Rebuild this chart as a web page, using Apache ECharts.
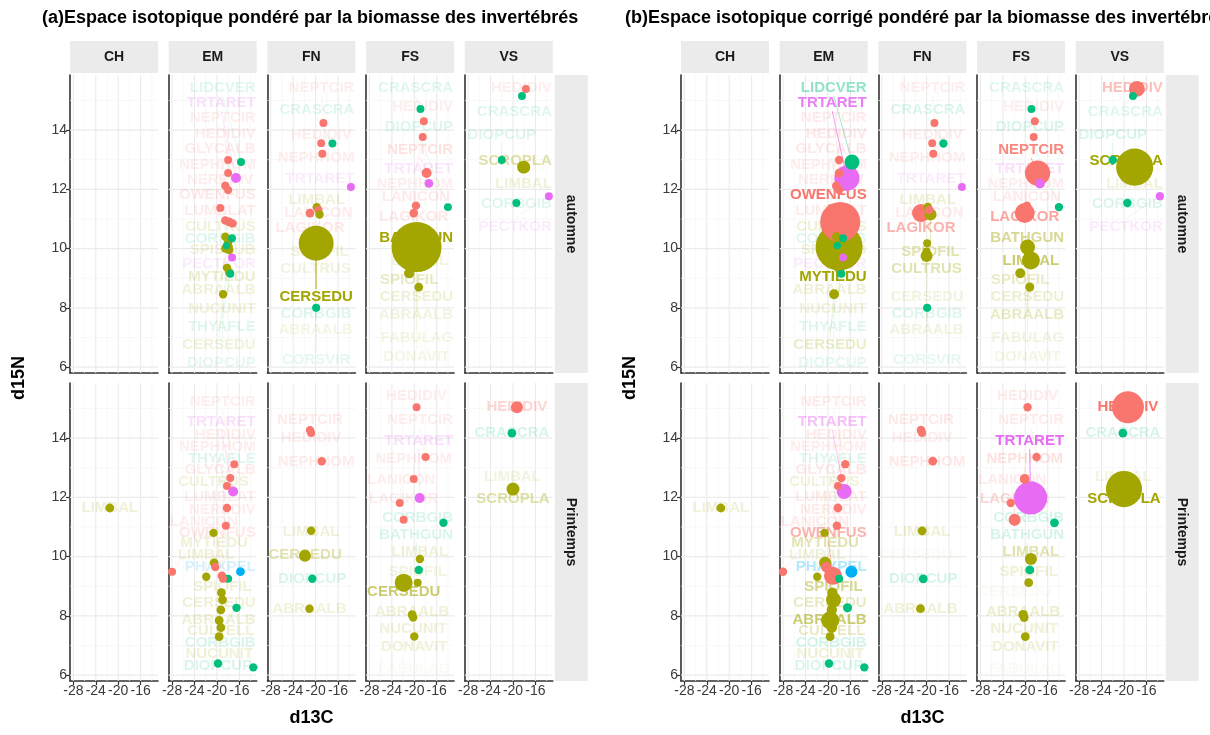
<!DOCTYPE html>
<html>
<head>
<meta charset="utf-8">
<script src="https://cdn.jsdelivr.net/npm/echarts@6/dist/echarts.min.js"></script>
<style>
  html, body { margin: 0; padding: 0; background: #ffffff; }
  #chart { width: 1210px; height: 735px; }
</style>
</head>
<body>
<div id="chart"></div>
<script>
// ---- categories, axes and colours ----
const FONT = '"Liberation Sans", Arial, Helvetica, sans-serif';
const groupColors = ['#F8766D', '#A3A500', '#00BF7D', '#00B0F6', '#E76BF3'];
const sites = ['CH', 'EM', 'FN', 'FS', 'VS'];
const seasons = ['automne', 'Printemps'];
const panelTitles = [
  '(a)Espace isotopique pondéré par la biomasse des invertébrés',
  '(b)Espace isotopique corrigé pondéré par la biomasse des invertébrés'
];
const xTicks = [-28, -24, -20, -16];
const xMinor = [-26, -22, -18, -14];
const yTicks = [6, 8, 10, 12, 14];
const yMinor = [7, 9, 11, 13, 15];
const xRange = [-28.6, -12.9];
const yRange = [5.8, 15.86];

// ---- taxa per site and season ----
// [code, trophic group, d13C, d15N, label d15N, biomass weight (a), biomass weight (b)]
const CH_automne = [];
const EM_automne = [
  ['LIDCVER', 2, -15.7, 12.92, 15.42, 0.002, 0.042],
  ['TRTARET', 4, -16.6, 12.38, 14.91, 0.008, 0.19],
  ['NEPTCIR', 0, -18.0, 12.99, 14.40, 0.002, 0.003],
  ['HEDIDIV', 0, -18.0, 12.55, 13.88, 0.002, 0.004],
  ['GLYCALB', 0, -18.5, 12.12, 13.36, 0.003, 0.004],
  ['NEPHHOM', 0, -18.0, 11.98, 12.84, 0.002, 0.002],
  ['NEREDIV', 0, -19.4, 11.37, 12.32, 0.002, 0.002],
  ['OWENFUS', 0, -17.8, 10.90, 11.82, 0.004, 0.60],
  ['LUMBLAT', 0, -17.2, 10.85, 11.28, 0.003, 0.003],
  ['CULTRUS', 1, -18.5, 10.40, 10.72, 0.003, 0.004],
  ['CORBGIB', 2, -17.3, 10.35, 10.33, 0.002, 0.002],
  ['SPISSUB', 1, -18.0, 10.20, 9.95, 0.003, 0.004],
  ['PECTKOR', 4, -17.3, 9.70, 9.50, 0.002, 0.002],
  ['MYTIEDU', 1, -18.0, 10.05, 9.05, 0.006, 0.87],
  ['ABRAALB', 1, -18.2, 9.35, 8.60, 0.003, 0.004],
  ['NUCUNIT', 1, -17.8, 9.20, 7.95, 0.003, 0.003],
  ['THYAFLE', 2, -17.6, 9.15, 7.35, 0.002, 0.002],
  ['CERSEDU', 1, -18.9, 8.46, 6.75, 0.003, 0.008],
  ['DIOPCUP', 2, -18.3, 10.10, 6.15, 0.001, 0.001],
  ['LANICON', 0, -18.5, 10.95, null, 0.003, 0.003],
  ['SPIOFIL', 1, -18.5, 10.00, null, 0.003, 0.003],
  ['MACOBAL', 1, -17.8, 9.95, null, 0.003, 0.003]
];
const FN_automne = [
  ['NEPTCIR', 0, -18.6, 14.24, 15.42, 0.002, 0.002],
  ['CRASCRA', 2, -17.0, 13.55, 14.68, 0.002, 0.003],
  ['HEDIDIV', 0, -19.0, 13.56, 13.85, 0.002, 0.002],
  ['NEPHHOM', 0, -18.8, 13.20, 13.05, 0.002, 0.002],
  ['TRTARET', 4, -13.7, 12.08, 12.35, 0.002, 0.002],
  ['LIMBAL', 1, -19.8, 11.40, 11.65, 0.003, 0.004],
  ['LANICON', 0, -19.5, 11.30, 11.20, 0.003, 0.003],
  ['LAGIKOR', 0, -21.0, 11.20, 10.70, 0.004, 0.074],
  ['SPIOFIL', 1, -19.3, 11.15, 9.90, 0.003, 0.019],
  ['CULTRUS', 1, -20.0, 9.75, 9.30, 0.002, 0.019],
  ['CERSEDU', 1, -19.9, 10.18, 8.36, 0.43, 0.002],
  ['CORBGIB', 2, -19.9, 8.00, 7.80, 0.002, 0.002],
  ['ABRAALB', 1, -20.0, 9.90, 7.25, 0.001, 0.002],
  ['CORSVIR', 2, -19.9, 8.00, 6.25, 0.001, 0.001]
];
const FS_automne = [
  ['CRASCRA', 2, -18.9, 14.71, 15.42, 0.002, 0.002],
  ['HEDIDIV', 0, -18.3, 14.30, 14.78, 0.002, 0.002],
  ['DIOPCUP', 2, -14.0, 11.40, 14.12, 0.002, 0.003],
  ['NEPTCIR', 0, -17.8, 12.55, 13.33, 0.008, 0.19],
  ['TRTARET', 4, -17.4, 12.20, 12.70, 0.004, 0.008],
  ['NEPHHOM', 0, -18.5, 13.77, 12.20, 0.002, 0.002],
  ['LANICON', 0, -19.7, 11.45, 11.74, 0.003, 0.003],
  ['LAGIKOR', 0, -20.1, 11.20, 11.06, 0.004, 0.10],
  ['BATHGUN', 1, -19.6, 10.05, 10.35, 1.0, 0.042],
  ['LIMBAL', 1, -19.0, 9.60, 9.60, 0.002, 0.074],
  ['SPIOFIL', 1, -20.9, 9.17, 8.94, 0.010, 0.008],
  ['CERSEDU', 1, -19.2, 8.70, 8.36, 0.004, 0.005],
  ['ABRAALB', 1, -19.5, 10.00, 7.75, 0.002, 0.010],
  ['FABULAG', 1, -19.3, 9.90, 7.00, 0.001, 0.002],
  ['DONAVIT', 1, -19.6, 9.80, 6.33, 0.001, 0.001]
];
const VS_automne = [
  ['HEDIDIV', 0, -17.7, 15.39, 15.42, 0.002, 0.05],
  ['CRASCRA', 2, -18.4, 15.15, 14.60, 0.002, 0.002],
  ['DIOPCUP', 2, -22.0, 12.99, 13.85, 0.002, 0.003],
  ['SCROPLA', 1, -18.1, 12.75, 12.95, 0.025, 0.50],
  ['LIMBAL', 1, -17.7, 12.72, 12.20, 0.003, 0.003],
  ['CORBGIB', 2, -19.4, 11.54, 11.50, 0.002, 0.003],
  ['PECTKOR', 4, -13.6, 11.77, 10.75, 0.002, 0.003]
];
const CH_printemps = [
  ['LIMBAL', 1, -21.5, 11.64, 11.64, 0.004, 0.004]
];
const EM_printemps = [
  ['NEPTCIR', 0, -16.9, 13.12, 15.21, 0.002, 0.003],
  ['TRTARET', 4, -17.1, 12.20, 14.54, 0.008, 0.042],
  ['HEDIDIV', 0, -17.6, 12.65, 14.10, 0.002, 0.003],
  ['NEPHHOM', 0, -18.2, 12.38, 13.70, 0.002, 0.002],
  ['THYAFLE', 2, -18.0, 9.25, 13.30, 0.002, 0.002],
  ['GLYCALB', 0, -18.2, 11.64, 12.92, 0.003, 0.004],
  ['CULTRUS', 1, -20.6, 10.80, 12.52, 0.003, 0.003],
  ['LUMBLAT', 0, -18.4, 11.04, 12.00, 0.002, 0.003],
  ['NEREDIV', 0, -18.9, 9.25, 11.58, 0.002, 0.003],
  ['LANICON', 0, -28.0, 9.49, 11.17, 0.002, 0.003],
  ['OWENFUS', 0, -19.1, 9.35, 10.80, 0.004, 0.074],
  ['MYTIEDU', 1, -20.5, 9.79, 10.46, 0.004, 0.019],
  ['LIMBAL', 1, -21.9, 9.32, 10.06, 0.003, 0.003],
  ['PHAXPEL', 3, -15.8, 9.49, 9.65, 0.004, 0.019],
  ['SPIOFIL', 1, -19.0, 8.54, 8.98, 0.004, 0.042],
  ['CERSEDU', 1, -19.2, 8.78, 8.44, 0.004, 0.010],
  ['ABRAALB', 1, -19.6, 7.85, 7.87, 0.004, 0.074],
  ['CULTELL', 1, -19.3, 7.60, 7.50, 0.004, 0.010],
  ['CORBGIB', 2, -16.5, 8.27, 7.10, 0.003, 0.005],
  ['NUCUNIT', 1, -19.6, 7.30, 6.70, 0.004, 0.004],
  ['DIOPCUP', 2, -19.8, 6.39, 6.30, 0.003, 0.003],
  ['MACOBAL', 2, -13.5, 6.26, null, 0.003, 0.003],
  ['LAGIKOR', 0, -20.3, 9.65, null, 0.003, 0.010],
  ['SPISSUB', 1, -19.3, 8.20, null, 0.004, 0.010]
];
const FN_printemps = [
  ['NEPTCIR', 0, -21.0, 14.27, 14.62, 0.003, 0.004],
  ['HEDIDIV', 0, -20.8, 14.17, 14.00, 0.002, 0.002],
  ['NEPHHOM', 0, -18.9, 13.22, 13.20, 0.003, 0.004],
  ['LIMBAL', 1, -20.8, 10.87, 10.85, 0.003, 0.004],
  ['CERSEDU', 1, -21.9, 10.03, 10.05, 0.019, 0],
  ['DIOPCUP', 2, -20.6, 9.25, 9.25, 0.003, 0.004],
  ['ABRAALB', 1, -21.1, 8.24, 8.25, 0.003, 0.004]
];
const FS_printemps = [
  ['HEDIDIV', 0, -19.6, 15.04, 15.42, 0.002, 0.003],
  ['NEPTCIR', 0, -18.0, 13.36, 14.62, 0.002, 0.003],
  ['TRTARET', 4, -19.05, 11.98, 13.90, 0.008, 0.38],
  ['NEPHHOM', 0, -20.1, 12.62, 13.30, 0.002, 0.008],
  ['LANICON', 0, -22.6, 11.81, 12.60, 0.002, 0.003],
  ['LAGIKOR', 0, -21.9, 11.24, 11.95, 0.002, 0.019],
  ['CORBGIB', 2, -14.8, 11.14, 11.30, 0.003, 0.004],
  ['BATHGUN', 2, -19.2, 9.55, 10.75, 0.003, 0.004],
  ['LIMBAL', 1, -19.0, 9.92, 10.15, 0.003, 0.019],
  ['SPIOFIL', 1, -19.4, 9.12, 9.50, 0.002, 0.004],
  ['CERSEDU', 1, -21.9, 9.12, 8.80, 0.074, 0],
  ['ABRAALB', 1, -20.4, 8.04, 8.15, 0.004, 0.006],
  ['NUCUNIT', 1, -20.2, 7.94, 7.55, 0.003, 0.004],
  ['DONAVIT', 1, -20.0, 7.30, 6.95, 0.003, 0.004],
  ['FABULAG', 1, -20.0, 7.30, 6.20, 0, 0]
];
const VS_printemps = [
  ['HEDIDIV', 0, -19.3, 15.04, 15.04, 0.019, 0.35],
  ['CRASCRA', 2, -20.2, 14.17, 14.17, 0.004, 0.004],
  ['LIMBAL', 1, -20.1, 12.30, 12.68, 0.002, 0.002],
  ['SCROPLA', 1, -20.0, 12.28, 11.95, 0.025, 0.47]
];

const facets = [
  [CH_automne, EM_automne, FN_automne, FS_automne, VS_automne],
  [CH_printemps, EM_printemps, FN_printemps, FS_printemps, VS_printemps]
];

// ---- layout of the facet grid ----
const panelLeft = [70, 681];
const colStep = 98.7;
const panelW = 88;
const rowTop = [75, 383];
const panelH = 298;

function dotSize(w) { return 6 + 44 * Math.sqrt(w); }
function labelAlpha(w) { return Math.min(1, 0.04 + 1.9 * Math.sqrt(w)); }

const LABEL_FONT = 'bold 15px ' + FONT;
const measureCtx = document.createElement('canvas').getContext('2d');
measureCtx.font = LABEL_FONT;
function textWidth(s) { return measureCtx.measureText(s).width; }

// grid lines drawn through each panel's scales
const gridLineData = [];
xTicks.forEach(v => gridLineData.push([v, yRange[0], 0]));
xMinor.forEach(v => gridLineData.push([v, yRange[0], 1]));
yTicks.forEach(v => gridLineData.push([xRange[0], v, 2]));
yMinor.forEach(v => gridLineData.push([xRange[0], v, 3]));

function renderGridLine(params, api) {
  const k = api.value(2);
  let a, b;
  if (k < 2) {
    const v = api.value(0);
    a = api.coord([v, yRange[0]]);
    b = api.coord([v, yRange[1]]);
  } else {
    const v = api.value(1);
    a = api.coord([xRange[0], v]);
    b = api.coord([xRange[1], v]);
  }
  const major = (k % 2 === 0);
  return {
    type: 'line',
    shape: { x1: a[0], y1: a[1], x2: b[0], y2: b[1] },
    style: { stroke: major ? '#EBEBEB' : '#F5F5F5', lineWidth: major ? 1.1 : 0.7 }
  };
}

function makeLabelRenderer(items) {
  return function (params, api) {
    const it = items[params.dataIndex];
    const cs = params.coordSys;
    const p = api.coord([it.x, it.y]);
    const ly = api.coord([it.x, it.ly])[1];
    const half = textWidth(it.code) / 2 + 1;
    const lx = Math.min(Math.max(p[0], cs.x + half), cs.x + cs.width - half);
    const alpha = labelAlpha(it.w);
    const col = groupColors[it.group];
    const r = it.w > 0 ? dotSize(it.w) / 2 : 0;
    const dy = ly - p[1];
    const children = [];
    if (Math.abs(dy) > r + 10) {
      const ey = dy > 0 ? ly - 8 : ly + 8;
      children.push({
        type: 'line',
        shape: { x1: p[0], y1: p[1], x2: lx, y2: ey },
        style: { stroke: col, lineWidth: 0.8, opacity: alpha }
      });
    }
    children.push({
      type: 'text', x: lx, y: ly,
      style: {
        text: it.code, fill: col, font: LABEL_FONT,
        textAlign: 'center', textVerticalAlign: 'middle',
        align: 'center', verticalAlign: 'middle', opacity: alpha
      }
    });
    return { type: 'group', children: children };
  };
}

const grids = [], xAxes = [], yAxes = [], series = [], elements = [];

for (let p = 0; p < 2; p++) {
  const wi = 5 + p;
  for (let r = 0; r < 2; r++) {
    for (let c = 0; c < 5; c++) {
      const gi = grids.length;
      const bottomRow = (r === 1);
      const firstCol = (c === 0);
      grids.push({ left: panelLeft[p] + c * colStep, top: rowTop[r], width: panelW, height: panelH });
      xAxes.push({
        gridIndex: gi, type: 'value', min: xRange[0], max: xRange[1],
        axisLine: { show: true, onZero: false, lineStyle: { color: '#333333', width: 1.6 } },
        axisTick: { show: bottomRow, customValues: xTicks, length: 4, lineStyle: { color: '#333333', width: 1.2 } },
        axisLabel: { show: bottomRow, customValues: xTicks, fontSize: 14, color: '#3A3A3A', margin: 3, fontFamily: FONT },
        splitLine: { show: false }
      });
      yAxes.push({
        gridIndex: gi, type: 'value', min: yRange[0], max: yRange[1],
        axisLine: { show: true, onZero: false, lineStyle: { color: '#333333', width: 1.6 } },
        axisTick: { show: firstCol, customValues: yTicks, length: 4, lineStyle: { color: '#333333', width: 1.2 } },
        axisLabel: { show: firstCol, customValues: yTicks, fontSize: 14, color: '#3A3A3A', margin: 3, fontFamily: FONT },
        splitLine: { show: false }
      });
      series.push({
        type: 'custom', xAxisIndex: gi, yAxisIndex: gi, z: 1, silent: true,
        data: gridLineData, renderItem: renderGridLine
      });

      const recs = facets[r][c];
      const labelled = recs.filter(d => d[4] !== null).map(d => ({
        code: d[0], group: d[1], x: d[2], y: d[3], ly: d[4], w: d[wi]
      }));
      series.push({
        type: 'custom', xAxisIndex: gi, yAxisIndex: gi, z: 2, silent: true, clip: false,
        data: labelled.map(d => [d.x, d.y]), renderItem: makeLabelRenderer(labelled)
      });

      const dots = recs.filter(d => d[wi] > 0)
        .slice().sort((a, b) => b[wi] - a[wi])
        .map(d => ({
          value: [d[2], d[3]],
          symbolSize: dotSize(d[wi]),
          itemStyle: { color: groupColors[d[1]], opacity: 1 }
        }));
      series.push({
        type: 'scatter', xAxisIndex: gi, yAxisIndex: gi, z: 3, silent: true,
        symbol: 'circle', itemStyle: { opacity: 1 }, data: dots
      });
    }
  }

  // panel title
  elements.push({
    type: 'text', x: [42, 625][p], y: 18,
    style: { text: panelTitles[p], fill: '#000000', font: 'bold 18px ' + FONT,
      textAlign: 'left', textVerticalAlign: 'middle', align: 'left', verticalAlign: 'middle' }
  });
  // site strips
  for (let c = 0; c < 5; c++) {
    const x0 = panelLeft[p] + c * colStep;
    elements.push({ type: 'rect', shape: { x: x0, y: 41, width: panelW, height: 32 }, style: { fill: '#EBEBEB' } });
    elements.push({
      type: 'text', x: x0 + panelW / 2, y: 57,
      style: { text: sites[c], fill: '#1A1A1A', font: 'bold 14px ' + FONT,
        textAlign: 'center', textVerticalAlign: 'middle', align: 'center', verticalAlign: 'middle' }
    });
  }
  // season strips
  const sx = panelLeft[p] + 4 * colStep + panelW + 2;
  for (let r = 0; r < 2; r++) {
    elements.push({ type: 'rect', shape: { x: sx, y: rowTop[r], width: 33, height: panelH }, style: { fill: '#EBEBEB' } });
    elements.push({
      type: 'text', x: sx + 16.5, y: rowTop[r] + panelH / 2, rotation: -Math.PI / 2,
      style: { text: seasons[r], fill: '#1A1A1A', font: 'bold 14px ' + FONT,
        textAlign: 'center', textVerticalAlign: 'middle', align: 'center', verticalAlign: 'middle' }
    });
  }
  // axis titles
  elements.push({
    type: 'text', x: [19, 630][p], y: 378, rotation: Math.PI / 2,
    style: { text: 'd15N', fill: '#000000', font: 'bold 18px ' + FONT,
      textAlign: 'center', textVerticalAlign: 'middle', align: 'center', verticalAlign: 'middle' }
  });
  elements.push({
    type: 'text', x: panelLeft[p] + (4 * colStep + panelW) / 2, y: 718,
    style: { text: 'd13C', fill: '#000000', font: 'bold 18px ' + FONT,
      textAlign: 'center', textVerticalAlign: 'middle', align: 'center', verticalAlign: 'middle' }
  });
}

const chart = echarts.init(document.getElementById('chart'), null, { renderer: 'canvas' });
chart.setOption({
  backgroundColor: '#ffffff',
  animation: false,
  grid: grids,
  xAxis: xAxes,
  yAxis: yAxes,
  series: series,
  graphic: { elements: elements }
});
</script>
</body>
</html>
